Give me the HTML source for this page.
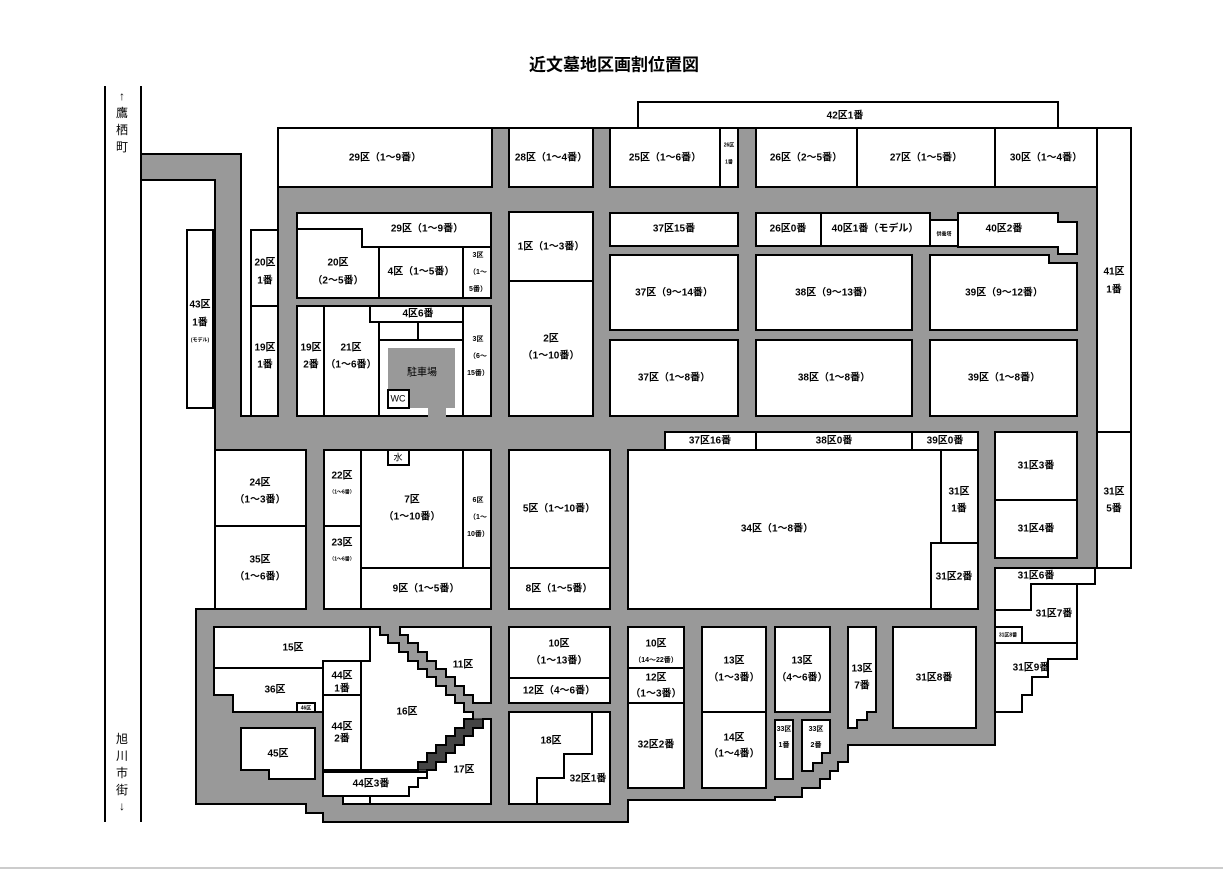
<!DOCTYPE html>
<html><head><meta charset="utf-8"><style>
body{margin:0;background:#fff;width:1223px;height:871px;overflow:hidden}
svg{display:block}
text{font-family:"Liberation Sans","Noto Sans CJK JP",sans-serif;font-weight:bold;font-size:10px;text-anchor:middle;dominant-baseline:middle;fill:#000}
.p{fill:#fff;stroke:#000;stroke-width:2}
.s{font-size:7px}
.t{font-size:5px}
</style></head><body>
<svg width="1223" height="871" viewBox="0 0 1223 871">
<text x="614" y="66" style="font-size:17px">近文墓地区画割位置図</text>
<line x1="0" y1="868" x2="1223" y2="868" stroke="#999" stroke-width="1"/>
<!-- left road lines -->
<line x1="105" y1="86" x2="105" y2="822" stroke="#000" stroke-width="2"/>
<line x1="141" y1="86" x2="141" y2="154" stroke="#000" stroke-width="2"/>
<line x1="141" y1="180" x2="141" y2="822" stroke="#000" stroke-width="2"/>
<g style="font-weight:normal">
<text x="122" y="97" style="font-weight:normal;font-size:12px">↑</text>
<text x="122" y="114" style="font-weight:normal;font-size:12px">鷹</text>
<text x="122" y="131" style="font-weight:normal;font-size:12px">栖</text>
<text x="122" y="148" style="font-weight:normal;font-size:12px">町</text>
<text x="122" y="740" style="font-weight:normal;font-size:12px">旭</text>
<text x="122" y="757" style="font-weight:normal;font-size:12px">川</text>
<text x="122" y="774" style="font-weight:normal;font-size:12px">市</text>
<text x="122" y="791" style="font-weight:normal;font-size:12px">街</text>
<text x="122" y="807" style="font-weight:normal;font-size:12px">↓</text>
</g>
<!-- gray roads -->
<polygon fill="#999" stroke="#000" stroke-width="2" points="141,154 241,154 241,416 278,416 278,128 1097,128 1097,568 995,568 995,745 848,745 848,762 838,762 838,771 830,771 830,779 820,779 820,788 802,788 802,797 775,797 775,800 628,800 628,822 323,822 323,813 306,813 306,804 196,804 196,609 215,609 215,180 141,180"/>

<!-- top row -->
<rect class="p" x="638" y="102" width="420" height="26"/><text x="845" y="116">42区1番</text>
<rect class="p" x="278" y="128" width="214" height="59"/><text x="385" y="158">29区（1～9番）</text>
<rect class="p" x="509" y="128" width="84" height="59"/><text x="551" y="158">28区（1～4番）</text>
<rect class="p" x="610" y="128" width="110" height="59"/><text x="665" y="158">25区（1～6番）</text>
<rect class="p" x="720" y="128" width="18" height="59"/><text x="729" y="145" class="t">26区</text><text x="729" y="162" class="t">1番</text>
<rect class="p" x="756" y="128" width="101" height="59"/><text x="806" y="158">26区（2～5番）</text>
<rect class="p" x="857" y="128" width="138" height="59"/><text x="926" y="158">27区（1～5番）</text>
<rect class="p" x="995" y="128" width="102" height="59"/><text x="1046" y="158">30区（1～4番）</text>
<rect class="p" x="1097" y="128" width="34" height="304"/><text x="1114" y="272">41区</text><text x="1114" y="290">1番</text>
<rect class="p" x="1097" y="432" width="34" height="136"/><text x="1114" y="492">31区</text><text x="1114" y="509">5番</text>

<!-- left column -->
<rect class="p" x="187" y="230" width="26" height="178"/><text x="200" y="305">43区</text><text x="200" y="323">1番</text><text x="200" y="340" class="t">(モデル)</text>
<rect class="p" x="251" y="230" width="27" height="76"/><text x="265" y="263">20区</text><text x="265" y="281">1番</text>
<rect class="p" x="251" y="306" width="27" height="110"/><text x="265" y="348">19区</text><text x="265" y="365">1番</text>

<!-- inner upper block -->
<polygon class="p" points="297,213 491,213 491,247 362,247 362,229 297,229"/><text x="427" y="229">29区（1～9番）</text>
<polygon class="p" points="297,229 362,229 362,247 379,247 379,298 297,298"/><text x="338" y="263">20区</text><text x="338" y="281">（2～5番）</text>
<rect class="p" x="379" y="247" width="84" height="51"/><text x="421" y="272">4区（1～5番）</text>
<rect class="p" x="463" y="247" width="28" height="51"/><text x="478" y="255" class="s">3区</text><text x="478" y="272" class="s">（1～</text><text x="478" y="289" class="s">5番）</text>
<!-- inner lower block -->
<rect class="p" x="297" y="306" width="194" height="110"/>
<rect class="p" x="297" y="306" width="27" height="110"/><text x="311" y="348">19区</text><text x="311" y="365">2番</text>
<rect class="p" x="324" y="306" width="55" height="110"/><text x="351" y="348">21区</text><text x="351" y="365">（1～6番）</text>
<rect class="p" x="370" y="306" width="93" height="16"/><text x="418" y="314">4区6番</text>
<rect class="p" x="379" y="322" width="84" height="18"/><line x1="418" y1="322" x2="418" y2="340" stroke="#000" stroke-width="2"/>
<rect class="p" x="463" y="306" width="28" height="110"/><text x="478" y="339" class="s">3区</text><text x="478" y="356" class="s">（6～</text><text x="478" y="373" class="s">15番）</text>
<rect x="388" y="348" width="67" height="60" fill="#999"/>
<rect x="428" y="405" width="18" height="13" fill="#999"/>
<text x="422" y="373" style="font-weight:normal;font-size:10px">駐車場</text>
<rect class="p" x="388" y="390" width="21" height="18" stroke-width="1.5"/><text x="398" y="399" style="font-weight:normal;font-size:9px">WC</text>

<rect class="p" x="509" y="212" width="84" height="69"/><text x="551" y="247">1区（1～3番）</text>
<rect class="p" x="509" y="281" width="84" height="135"/><text x="551" y="339">2区</text><text x="551" y="356">（1～10番）</text>

<rect class="p" x="610" y="213" width="128" height="33"/><text x="674" y="229">37区15番</text>
<rect class="p" x="756" y="213" width="65" height="33"/><text x="788" y="229">26区0番</text>
<rect class="p" x="821" y="213" width="109" height="33"/><text x="875" y="229">40区1番（モデル）</text>
<rect class="p" x="930" y="220" width="28" height="26"/><text x="944" y="234" class="t">供養塔</text>
<polygon class="p" points="958,213 1058,213 1058,222 1077,222 1077,254 1058,254 1058,247 958,247"/><text x="1004" y="229">40区2番</text>
<rect class="p" x="610" y="255" width="128" height="75"/><text x="674" y="293">37区（9～14番）</text>
<rect class="p" x="756" y="255" width="156" height="75"/><text x="834" y="293">38区（9～13番）</text>
<polygon class="p" points="930,255 1049,255 1049,263 1077,263 1077,330 930,330"/><text x="1004" y="293">39区（9～12番）</text>
<rect class="p" x="610" y="340" width="128" height="76"/><text x="674" y="378">37区（1～8番）</text>
<rect class="p" x="756" y="340" width="156" height="76"/><text x="834" y="378">38区（1～8番）</text>
<rect class="p" x="930" y="340" width="147" height="76"/><text x="1004" y="378">39区（1～8番）</text>

<!-- middle row -->
<rect class="p" x="665" y="432" width="91" height="18"/><text x="710" y="441">37区16番</text>
<rect class="p" x="756" y="432" width="156" height="18"/><text x="834" y="441">38区0番</text>
<rect class="p" x="912" y="432" width="66" height="18"/><text x="945" y="441">39区0番</text>
<rect class="p" x="628" y="450" width="350" height="159"/><text x="777" y="529">34区（1～8番）</text>
<rect class="p" x="941" y="450" width="37" height="93"/><text x="959" y="492">31区</text><text x="959" y="509">1番</text>
<rect class="p" x="931" y="543" width="47" height="66"/><text x="954" y="577">31区2番</text>
<rect class="p" x="995" y="432" width="82" height="68"/><text x="1036" y="466">31区3番</text>
<rect class="p" x="995" y="500" width="82" height="58"/><text x="1036" y="529">31区4番</text>

<rect class="p" x="215" y="450" width="91" height="76"/><text x="260" y="483">24区</text><text x="260" y="500">（1～3番）</text>
<rect class="p" x="215" y="526" width="91" height="83"/><text x="260" y="560">35区</text><text x="260" y="577">（1～6番）</text>
<rect class="p" x="324" y="450" width="37" height="76"/><text x="342" y="476">22区</text><text x="342" y="492" class="t">（1～6番）</text>
<rect class="p" x="324" y="526" width="37" height="83"/><text x="342" y="543">23区</text><text x="342" y="559" class="t">（1～6番）</text>
<rect class="p" x="361" y="450" width="102" height="118"/><text x="412" y="500">7区</text><text x="412" y="517">（1～10番）</text>
<rect class="p" x="388" y="450" width="21" height="15" stroke-width="1.5"/><text x="398" y="458" style="font-weight:normal;font-size:9px">水</text>
<rect class="p" x="463" y="450" width="28" height="118"/><text x="478" y="500" class="s">6区</text><text x="478" y="517" class="s">（1～</text><text x="478" y="534" class="s">10番）</text>
<rect class="p" x="361" y="568" width="130" height="41"/><text x="426" y="589">9区（1～5番）</text>
<rect class="p" x="509" y="450" width="101" height="118"/><text x="559" y="509">5区（1～10番）</text>
<rect class="p" x="509" y="568" width="101" height="41"/><text x="559" y="589">8区（1～5番）</text>

<!-- right lower -->
<polygon class="p" points="995,568 1095,568 1095,584 1031,584 1031,610 995,610"/><text x="1036" y="576">31区6番</text>
<polygon class="p" points="1031,584 1077,584 1077,643 995,643 995,610 1031,610"/><text x="1054" y="614">31区7番</text>
<rect class="p" x="995" y="627" width="27" height="16"/><text x="1008" y="635" class="t">31区8番</text>
<polygon class="p" points="995,643 1077,643 1077,659 1048,659 1048,677 1032,677 1032,695 1022,695 1022,712 995,712"/><text x="1031" y="668">31区9番</text>
<rect class="p" x="893" y="627" width="83" height="101"/><text x="934" y="678">31区8番</text>
<polygon class="p" points="848,627 876,627 876,712 867,712 867,720 857,720 857,728 848,728"/><text x="862" y="669">13区</text><text x="862" y="686">7番</text>
<rect class="p" x="775" y="627" width="55" height="85"/><text x="802" y="661">13区</text><text x="802" y="678">（4～6番）</text>
<rect class="p" x="775" y="720" width="18" height="59"/><text x="784" y="729" class="s">33区</text><text x="784" y="745" class="s">1番</text>
<polygon class="p" points="802,720 830,720 830,753 822,753 822,763 813,763 813,771 802,771"/><text x="816" y="729" class="s">33区</text><text x="816" y="745" class="s">2番</text>
<rect class="p" x="702" y="627" width="64" height="85"/><text x="734" y="661">13区</text><text x="734" y="678">（1～3番）</text>
<rect class="p" x="702" y="712" width="64" height="76"/><text x="734" y="738">14区</text><text x="734" y="754">（1～4番）</text>
<rect class="p" x="628" y="627" width="56" height="41"/><text x="656" y="644">10区</text><text x="656" y="660" class="s">（14～22番）</text>
<rect class="p" x="628" y="668" width="56" height="35"/><text x="656" y="678">12区</text><text x="656" y="694">（1～3番）</text>
<rect class="p" x="628" y="703" width="56" height="85"/><text x="656" y="745">32区2番</text>
<rect class="p" x="509" y="627" width="101" height="51"/><text x="559" y="644">10区</text><text x="559" y="661">（1～13番）</text>
<rect class="p" x="509" y="678" width="101" height="25"/><text x="559" y="691">12区（4～6番）</text>
<rect class="p" x="509" y="712" width="101" height="92"/><text x="551" y="741">18区</text>
<polyline points="592,712 592,754 564,754 564,778 537,778 537,804" fill="none" stroke="#000" stroke-width="2"/>
<text x="588" y="779">32区1番</text>

<!-- bottom left -->
<rect class="p" x="214" y="627" width="156" height="41"/><text x="293" y="648">15区</text>
<polygon class="p" points="214,668 323,668 323,712 233,712 233,695 214,695"/><text x="275" y="690">36区</text>
<rect class="p" x="297" y="703" width="18" height="9" stroke-width="1"/><text x="306" y="708" class="t">46区</text>
<polygon class="p" points="241,728 315,728 315,779 269,779 269,770 241,770"/><text x="278" y="754">45区</text>
<polygon class="p" points="400,627 491,627 491,703 473,703 473,695 464,695 464,686 455,686 455,677 446,677 446,669 436,669 436,661 427,661 427,652 418,652 418,643 408,643 408,635 400,635"/><text x="463" y="665">11区</text>
<polygon fill="#444" stroke="#000" stroke-width="1" points="473,719 483,719 483,728 473,728 473,736 464,736 464,745 455,745 455,753 446,753 446,762 436,762 436,770 418,770 418,762 427,762 427,753 436,753 436,745 446,745 446,736 455,736 455,728 464,728 464,719"/>
<polygon class="p" points="361,661 370,661 370,627 380,627 380,635 388,635 388,643 399,643 399,652 408,652 408,661 418,661 418,669 427,669 427,677 436,677 436,686 446,686 446,695 455,695 455,703 464,703 464,712 473,712 473,719 464,719 464,728 455,728 455,736 446,736 446,745 436,745 436,753 427,753 427,762 418,762 418,770 361,770"/><text x="407" y="712">16区</text>
<polygon class="p" points="483,719 491,719 491,804 343,804 343,796 409,796 409,787 418,787 418,778 427,778 427,770 436,770 436,762 446,762 446,753 455,753 455,745 464,745 464,736 473,736 473,728 483,728"/><text x="464" y="770">17区</text>
<line x1="370" y1="796" x2="370" y2="804" stroke="#000" stroke-width="2"/>
<rect class="p" x="323" y="661" width="38" height="34"/><text x="342" y="676">44区</text><text x="342" y="689">1番</text>
<rect class="p" x="323" y="695" width="38" height="75"/><text x="342" y="727">44区</text><text x="342" y="739">2番</text>
<polygon class="p" points="323,772 427,772 427,778 418,778 418,787 409,787 409,796 323,796"/><text x="371" y="784">44区3番</text>
</svg>
</body></html>
